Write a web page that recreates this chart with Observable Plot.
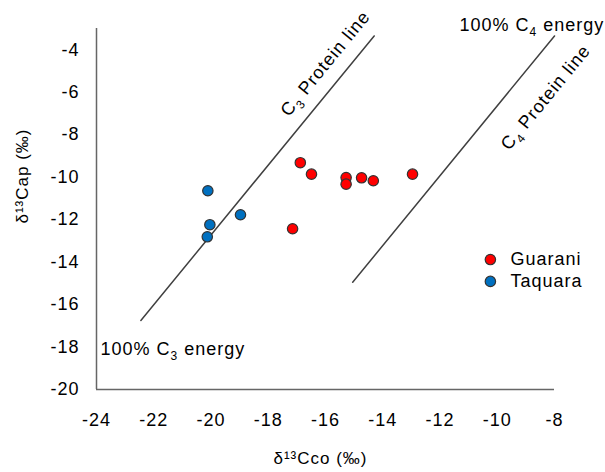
<!DOCTYPE html>
<html><head><meta charset="utf-8">
<script src="https://cdn.jsdelivr.net/npm/d3@7"></script>
<script src="https://cdn.jsdelivr.net/npm/@observablehq/plot@0.6"></script>
<style>
body{margin:0;background:#fff}
#chart{width:605px;height:472px}
#chart svg text{letter-spacing:1px}
#chart svg g[aria-label="axis-title"] text{letter-spacing:0}
</style>
</head><body><div id="chart"></div>
<script>
// Data
const guaraniX = [-16.88, -16.49, -15.28, -15.28, -14.74, -14.33, -12.96, -17.15];
const guaraniY = [-9.32, -9.86, -10.02, -10.33, -10.03, -10.17, -9.86, -12.43];
const taquaraX = [-20.11, -18.97, -20.04, -20.13];
const taquaraY = [-10.64, -11.77, -12.24, -12.81];
const groups = ["Guarani", "Taquara"];
const groupColors = ["#ff0000", "#0070c0"];
const xTicks = [-24, -22, -20, -18, -16, -14, -12, -10, -8];
const yTicks = [-20, -18, -16, -14, -12, -10, -8, -6, -4];
const c3LineX = [-22.45, -14.3];
const c3LineY = [-16.75, -3.35];
const c4LineX = [-15.05, -8.0];
const c4LineY = [-14.95, -3.35];
const xTitle = "δ¹³Cco (‰)";
const yTitle = "δ¹³Cap (‰)";

const points = [
  ...guaraniX.map((x, i) => ({x, y: guaraniY[i], group: groups[0]})),
  ...taquaraX.map((x, i) => ({x, y: taquaraY[i], group: groups[1]}))
];
const c3 = c3LineX.map((x, i) => ({x, y: c3LineY[i]}));
const c4 = c4LineX.map((x, i) => ({x, y: c4LineY[i]}));

const annotations = [
  {x: -16.0, y: -4.65, text: "C₃ Protein line", rotate: -50.7},
  {x: -8.31, y: -6.25, text: "C₄ Protein line", rotate: -50.7},
  {x: -11.32, y: -2.86, text: "100% C₄ energy", rotate: 0},
  {x: -23.86, y: -18.12, text: "100% C₃ energy", rotate: 0}
];
const legendX = -10.24;
const legendY = [-13.88, -14.91];
const legend = groups.map((g, i) => ({group: g, x: legendX, y: legendY[i]}));

const axisColor = "#666666";
const lineColor = "#404040";

const chart = Plot.plot({
  width: 605,
  height: 472,
  marginLeft: 96,
  marginRight: 51,
  marginTop: 28,
  marginBottom: 83,
  style: {fontFamily: "'Liberation Sans', Arial, sans-serif", fontSize: "18px", color: "#000", background: "#fff"},
  x: {domain: [-24, -8], ticks: xTicks, tickSize: 0, tickPadding: 24, tickFormat: d => String(d), label: null},
  y: {domain: [-20, -3], ticks: yTicks, tickSize: 0, tickPadding: 17, tickFormat: d => String(d), label: null},
  color: {domain: groups, range: groupColors},
  marks: [
    Plot.ruleX([-24], {stroke: axisColor, strokeWidth: 1.5}),
    Plot.ruleY([-20], {stroke: axisColor, strokeWidth: 1.5}),
    Plot.line(c3, {x: "x", y: "y", stroke: lineColor, strokeWidth: 1.5}),
    Plot.line(c4, {x: "x", y: "y", stroke: lineColor, strokeWidth: 1.5}),
    Plot.dot(points, {x: "x", y: "y", fill: "group", r: 5.2, stroke: "#333", strokeWidth: 1.2}),
    Plot.text(annotations.filter(d => d.rotate !== 0), {x: "x", y: "y", text: "text", rotate: -50.7, fontSize: 18, fill: "#000", textAnchor: "middle"}),
    Plot.text(annotations.filter(d => d.rotate === 0), {x: "x", y: "y", text: "text", fontSize: 18, fill: "#000", textAnchor: "start"}),
    Plot.dot(legend, {x: "x", y: "y", fill: "group", r: 5.2, stroke: "#333", strokeWidth: 1.2}),
    Plot.text(legend, {x: "x", y: "y", text: "group", dx: 20, textAnchor: "start", fontSize: 18, fill: "#000"}),
    Plot.text([xTitle], {frameAnchor: "bottom", dx: -5, dy: 74, fontSize: 17, fill: "#000", ariaLabel: "axis-title"}),
    Plot.text([yTitle], {frameAnchor: "left", rotate: -90, dx: -74, dy: 14.5, fontSize: 17, fill: "#000", ariaLabel: "axis-title"})
  ]
});
// Render Unicode subscript digits as real subscripts
const subMap = {"₃": "3", "₄": "4"};
d3.select(chart).selectAll("text").each(function () {
  const t = this.textContent;
  const m = t.match(/^(.*?)([₃₄])(.*)$/);
  if (!m) return;
  const el = d3.select(this);
  el.text(null);
  el.append("tspan").text(m[1]);
  el.append("tspan").attr("dy", 5).attr("font-size", "12px").text(subMap[m[2]]);
  el.append("tspan").attr("dy", -5).text(m[3]);
});
document.getElementById("chart").appendChild(chart);
</script>
</body></html>
